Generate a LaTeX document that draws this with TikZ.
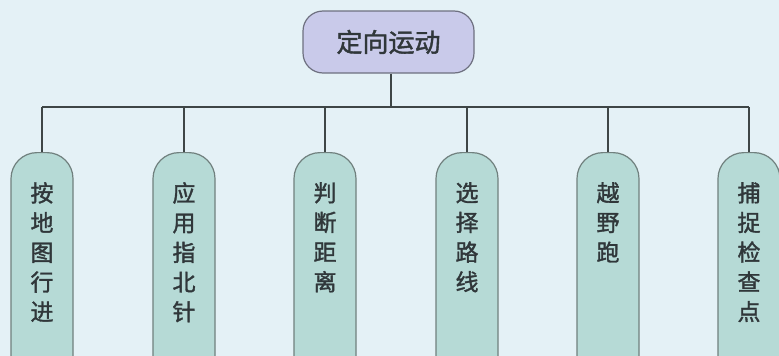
\documentclass[tikz,border=0pt]{standalone}
\usepackage{fontspec}
\newfontfamily\cjk[FakeBold=1.5]{Noto Sans CJK SC}
\definecolor{bg}{HTML}{E4F1F6}
\definecolor{topfill}{HTML}{C9CAEA}
\definecolor{topdraw}{HTML}{6E7080}
\definecolor{boxfill}{HTML}{B6DAD6}
\definecolor{boxdraw}{HTML}{70807E}
\definecolor{linecol}{HTML}{3E4646}
\definecolor{txt}{HTML}{30373A}
\begin{document}
\begin{tikzpicture}[x=1pt,y=-1pt,
  topnode/.style={draw=topdraw,fill=topfill,line width=1.2pt,rounded corners=20pt,
    minimum width=171pt,minimum height=62pt,inner sep=0pt,
    font=\cjk\fontsize{26}{28}\selectfont,text=txt},
  leaf/.style={draw=boxdraw,fill=boxfill,line width=1.2pt,rounded corners=26pt,
    minimum width=62pt,minimum height=240pt,anchor=north,inner sep=0pt},
  leaftext/.style={anchor=north,align=center,inner sep=0pt,text=txt,
    font=\cjk\fontsize{23}{29.7}\selectfont},
  conn/.style={draw=linecol,line width=1.4pt}]
\useasboundingbox[fill=bg] (0,0) rectangle (779,356);
\begin{scope}
\clip (0,0) rectangle (779,356);
\node[topnode] (root) at (388.5,42) {定向运动};
\coordinate (bus) at (391,107);
\foreach \i/\x in {1/42,2/184,3/325,4/467,5/608,6/749}{
  \node[leaf] (b\i) at (\x,152) {};
  \coordinate (t\i) at (\x,107);
}
\node[leaftext] (l1) at (42,182) {按\\地\\图\\行\\进};
\node[leaftext] (l2) at (184,182) {应\\用\\指\\北\\针};
\node[leaftext] (l3) at (325,182) {判\\断\\距\\离};
\node[leaftext] (l4) at (467,182) {选\\择\\路\\线};
\node[leaftext] (l5) at (608,182) {越\\野\\跑};
\node[leaftext] (l6) at (749,182) {捕\\捉\\检\\查\\点};
\draw[conn] (root.south -| bus) -- (bus);
\draw[conn] (t1) -- (t6);
\foreach \i in {1,...,6}{
  \draw[conn] (t\i) -- (b\i.north);
}
\end{scope}
\end{tikzpicture}
\end{document}
